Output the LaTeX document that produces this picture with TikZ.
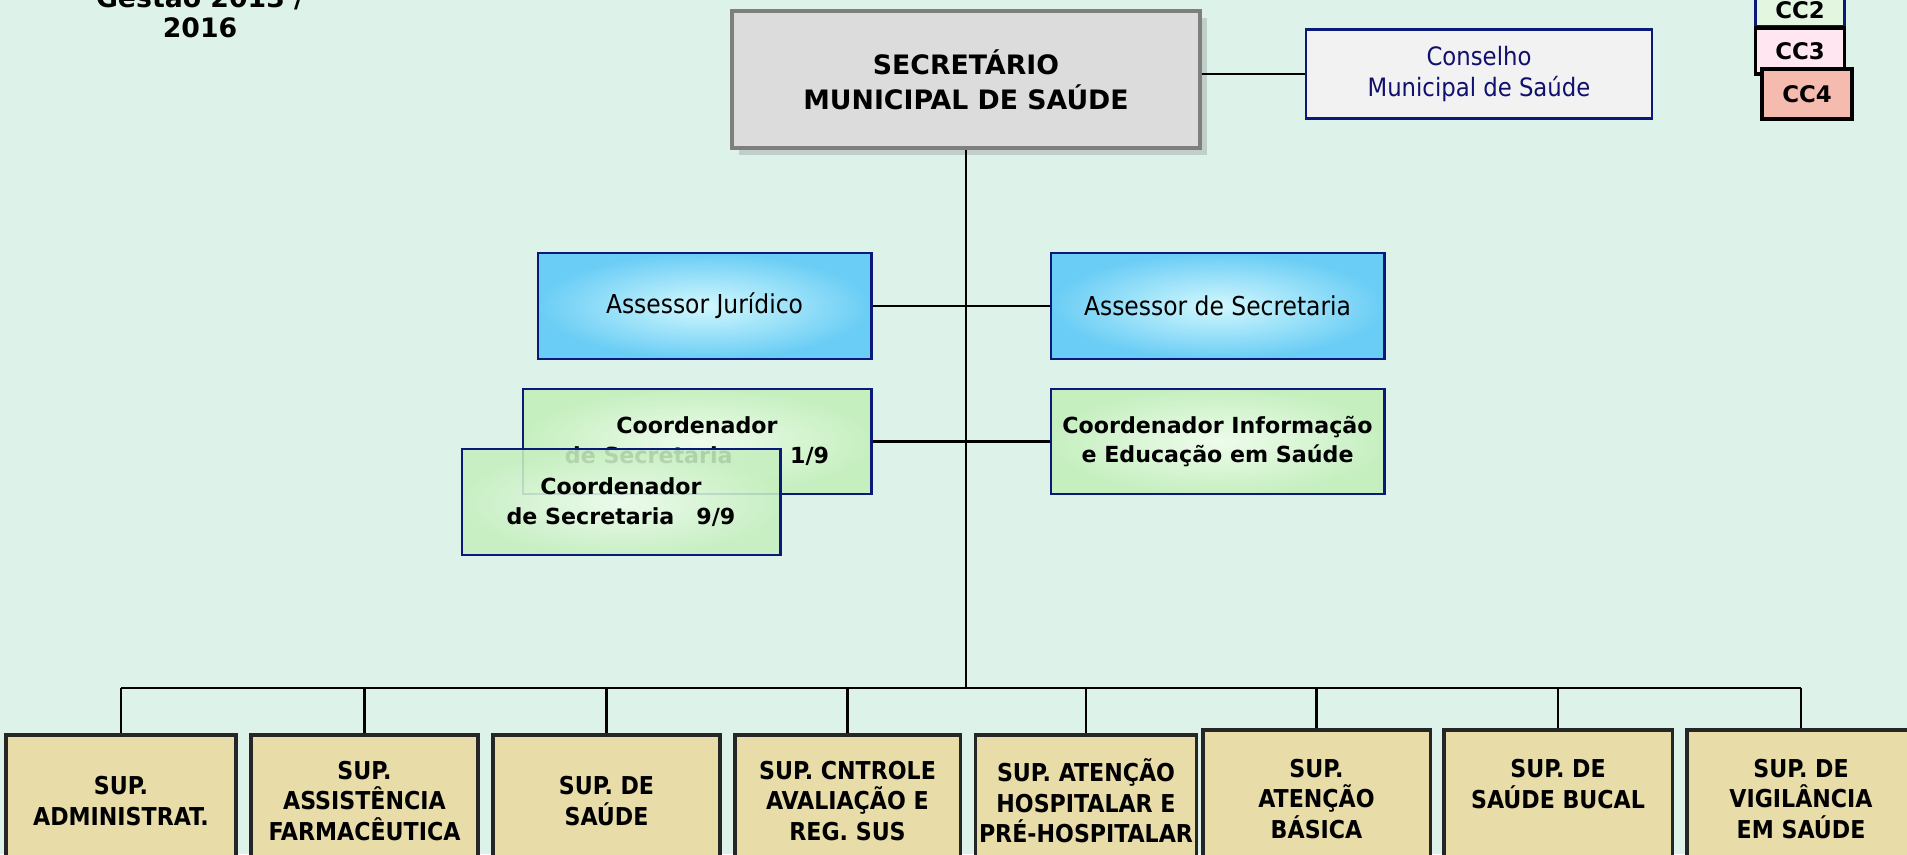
\documentclass[tikz,border=0pt]{standalone}
\usepackage{fontspec}
\setmainfont{DejaVu Sans}
\newfontfamily\condfont{DejaVu Sans Condensed}
\usetikzlibrary{positioning, shadows}
\definecolor{SMS_Mint}{HTML}{DDF2E9}
\definecolor{SMS_Gray}{HTML}{DCDCDC}
\definecolor{SMS_Edge}{HTML}{7F7F7F}
\definecolor{SMS_Navy}{HTML}{0B1A78}
\definecolor{SMS_Ink}{HTML}{10106E}
\definecolor{SMS_Sky}{HTML}{6ACDF5}
\definecolor{SMS_Ice}{HTML}{D2F8FD}
\definecolor{SMS_Leaf}{HTML}{C6EFC0}
\definecolor{SMS_Mist}{HTML}{EEFCEC}
\definecolor{SMS_Sand}{HTML}{E8DCA9}
\definecolor{SMS_Paper}{HTML}{F2F2F2}
\definecolor{SMS_Pale}{HTML}{E2F6E0}
\definecolor{SMS_Rose}{HTML}{FFE6F0}
\definecolor{SMS_Salmon}{HTML}{F5BBAE}

\tikzset{
  assessor/.style={draw=SMS_Navy, line width=0.8pt, inner color=SMS_Ice, outer color=SMS_Sky,
    minimum width=3.33cm, minimum height=1.06cm, font=\condfont\fontsize{7.4}{8.5}\selectfont},
  coord/.style={draw=SMS_Navy, line width=0.8pt, inner color=SMS_Mist, outer color=SMS_Leaf,
    align=center, inner sep=1pt, font=\bfseries\fontsize{6.3}{8.5}\selectfont},
  sup/.style={draw=black!85, line width=0.9pt, fill=SMS_Sand, minimum height=1.32cm,
    align=center, inner sep=1pt, font=\condfont\bfseries\fontsize{7}{8.7}\selectfont},
  ccbox/.style={draw=black, line width=0.9pt, minimum width=0.89cm, inner sep=0pt,
    font=\bfseries\fontsize{6.5}{7}\selectfont},
  link/.style={line width=0.6pt, black}
}

\begin{document}
\begin{tikzpicture}[x=0.01cm, y=-0.01cm]
    % Page
    \fill[SMS_Mint] (0,0) rectangle (1907,854);
    \useasboundingbox (0,0) rectangle (1907,854);

    % Heading
    \node[align=center, font=\bfseries\fontsize{7.6}{8.5}\selectfont] (gestao) at (200,12) {Gestão 2013 /\\2016};

    % Legend
    \node[ccbox, fill=SMS_Pale, draw=SMS_Navy, minimum height=0.34cm] (cc2) at (1800,10) {CC2};
    \node[ccbox, fill=SMS_Rose, minimum height=0.46cm] (cc3) at (1800,51) {CC3};
    \node[ccbox, fill=SMS_Salmon, minimum height=0.5cm, minimum width=0.9cm] (cc4) at (1807,94) {CC4};

    % Top
    \node[draw=SMS_Edge, line width=1.1pt, fill=SMS_Gray, minimum width=4.67cm, minimum height=1.37cm,
      align=center, font=\bfseries\fontsize{7.6}{10}\selectfont,
      drop shadow={opacity=0.3, shadow xshift=2pt, shadow yshift=-2pt}] (boss) at (966,79.5)
      {SECRETÁRIO\\MUNICIPAL DE SAÚDE};
    \node[draw=SMS_Navy, line width=0.6pt, fill=SMS_Paper, minimum width=3.46cm, minimum height=0.89cm,
      align=center, text=SMS_Ink, font=\condfont\fontsize{7.2}{8.6}\selectfont] (conselho) at (1479,74)
      {Conselho\\Municipal de Saúde};

    % Advisers
    \node[assessor] (juridico) at (704.5,306) {Assessor Jurídico};
    \node[assessor] (assessor) at (1217.5,306) {Assessor de Secretaria};
    \node[coord, minimum width=3.48cm, minimum height=1.05cm] (coordA) at (697,441.5)
      {Coordenador\\de Secretaria\hspace{2.6em}1/9};
    \node[coord, minimum width=3.18cm, minimum height=1.06cm, fill opacity=0.88, text opacity=1] (coordB) at (621,502)
      {Coordenador\\de Secretaria\hspace{1em}9/9};
    \node[coord, minimum width=3.33cm, minimum height=1.05cm] (info) at (1217.5,441.5)
      {Coordenador Informação\\e Educação em Saúde};

    % Superintendencies
    \node[sup, minimum width=2.30cm] (sup1) at (121,801) {SUP.\\ADMINISTRAT.};
    \node[sup, minimum width=2.27cm] (sup2) at (364.5,801) {SUP.\\ASSISTÊNCIA\\FARMACÊUTICA};
    \node[sup, minimum width=2.27cm] (sup3) at (606.5,801) {SUP. DE\\SAÚDE};
    \node[sup, minimum width=2.25cm] (sup4) at (847.5,801) {SUP. CNTROLE\\AVALIAÇÃO E\\REG. SUS};
    \node[sup, minimum width=2.20cm] (sup5) at (1086,801) {SUP. ATENÇÃO\\HOSPITALAR E\\PRÉ-HOSPITALAR};
    \node[sup, minimum width=2.27cm, minimum height=1.38cm] (sup6) at (1316.5,799) {SUP.\\ATENÇÃO\\BÁSICA};
    \node[sup, minimum width=2.28cm, minimum height=1.38cm] (sup7) at (1558,799) {SUP. DE\\SAÚDE BUCAL\\\mbox{}};
    \node[sup, minimum width=2.28cm, minimum height=1.38cm] (sup8) at (1801,799) {SUP. DE\\VIGILÂNCIA\\EM SAÚDE};

    % Links
    \coordinate (bus) at (boss.south |- 0,688);
    \draw[link] (boss.east |- conselho.west) -- (conselho.west);
    \draw[link] (boss.south) -- (bus);
    \draw[link] (juridico.east) -- (assessor.west);
    \draw[link] (coordA.east) -- (info.west);
    \draw[link] (sup1.north |- bus) -- (sup8.north |- bus);
    \foreach \s in {sup1,sup2,sup3,sup4,sup5,sup6,sup7,sup8} {
        \draw[link] (\s.north |- bus) -- (\s.north);
    }
\end{tikzpicture}
\end{document}
